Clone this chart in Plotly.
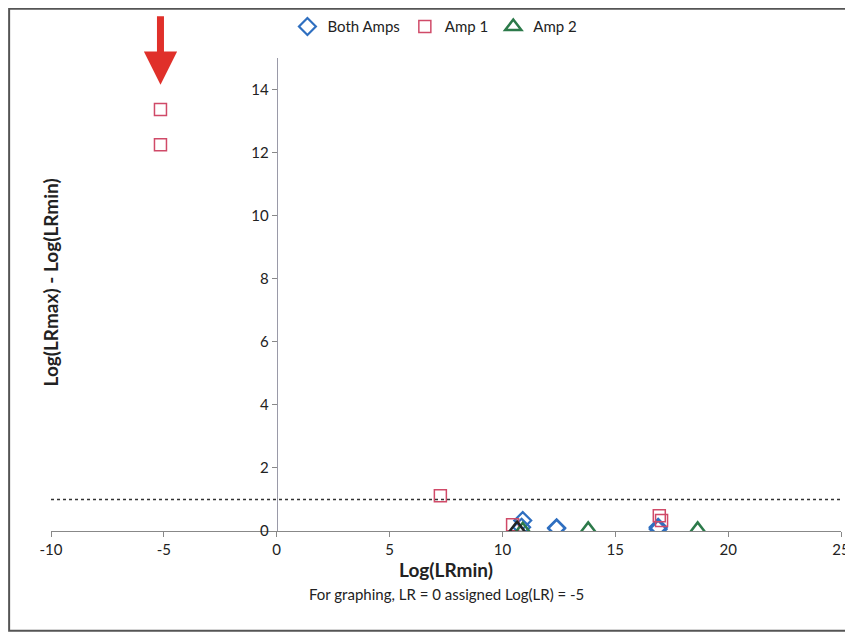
import plotly.graph_objects as go

# ---- data ----
both_x = [10.9, 10.85, 12.4, 12.4, 16.9, 16.9]
both_y = [0.33, 0.12, 0.10, 0.08, 0.12, 0.06]

amp1_x = [-5.15, -5.15, 7.25, 10.45, 16.95, 17.05]
amp1_y = [13.37, 12.25, 1.12, 0.20, 0.48, 0.33]

amp2_x = [10.9, 13.8, 18.65, 10.65]
amp2_y = [0.04, 0.05, 0.05, 0.08]

threshold = 1
x_ticks = [-10, -5, 0, 5, 10, 15, 20, 25]
x_tick_labels = ["-10", "-5", "0", "5", "10", "15", "20", "25"]
y_ticks = [0, 2, 4, 6, 8, 10, 12, 14]
arrow_x = -5.15
arrow_y = 14.15

BLUE = "#2f6fc0"
RED = "#d04a68"
GREEN = "#2c7a4a"
FONT = "Lato"
amp2_colors = [GREEN, GREEN, GREEN, "#222222"]

fig = go.Figure()
fig.add_trace(go.Scatter(x=both_x, y=both_y, mode="markers", name="Both Amps",
                         marker=dict(symbol="diamond-open", size=13, color=BLUE,
                                     line=dict(width=2.2, color=BLUE))))
fig.add_trace(go.Scatter(x=amp1_x, y=amp1_y, mode="markers", name="Amp 1",
                         marker=dict(symbol="square-open", size=12, color=RED,
                                     line=dict(width=1.5, color=RED))))
fig.add_trace(go.Scatter(x=amp2_x, y=amp2_y, mode="markers", name="Amp 2",
                         marker=dict(symbol="triangle-up-open", size=14,
                                     color=amp2_colors,
                                     line=dict(width=2.5, color=amp2_colors))))

# dotted threshold line
fig.add_shape(type="line", xref="x", yref="y", x0=x_ticks[0], x1=x_ticks[-1],
              y0=threshold, y1=threshold, line=dict(color="#333333", width=1.5, dash="dot"))

# outer frame around the whole picture
fig.add_shape(type="rect", xref="paper", yref="paper", x0=-0.053, x1=1.0127,
              y0=-0.211, y1=1.104, line=dict(color="#555555", width=2))

# red arrow
fig.add_annotation(x=arrow_x, y=arrow_y, xref="x", yref="y", ax=0, ay=-70,
                   showarrow=True, arrowhead=2, arrowsize=0.95, arrowwidth=7,
                   arrowcolor="#e0302a", text="")

# subtitle
fig.add_annotation(x=0.5, y=-0.157, xref="paper", yref="paper", showarrow=False,
                   text="For graphing, LR = 0 assigned Log(LR) = -5",
                   font=dict(family=FONT, size=15, color="#222222"))

# y-axis title placed at the left edge of the picture
fig.add_annotation(x=-0.018, y=0.526, xref="paper", yref="paper", showarrow=False,
                   text="<b>Log(LRmax) - Log(LRmin)</b>", textangle=-90,
                   font=dict(family=FONT, size=19, color="#222222"))

fig.update_layout(
    width=853, height=634,
    margin=dict(l=43, r=20, t=50, b=111, autoexpand=False),
    paper_bgcolor="white", plot_bgcolor="white",
    font=dict(family=FONT, size=15, color="#222222"),
    showlegend=True,
    legend=dict(orientation="h", x=0.486, xanchor="center", y=1.066, yanchor="middle",
                font=dict(size=15), itemwidth=30, tracegroupgap=0),
    xaxis=dict(range=[x_ticks[0], x_ticks[-1]], tickvals=x_ticks, ticktext=x_tick_labels,
               showgrid=False,
               zeroline=False, showline=True, linecolor="#888888", linewidth=1.2,
               ticks="outside", ticklen=5, tickcolor="#888888", automargin=False,
               tickfont=dict(size=15),
               title=dict(text="<b>Log(LRmin)</b>", font=dict(size=19), standoff=6)),
    yaxis=dict(range=[0, 15], tickvals=y_ticks, showgrid=False, zeroline=False,
               showline=True, linecolor="#9a9aa8", linewidth=1.2, automargin=False,
               ticks="outside", ticklen=5, tickcolor="#888888",
               tickfont=dict(size=15),
               anchor="free", position=(0 - x_ticks[0]) / (x_ticks[-1] - x_ticks[0])),
)

fig.write_html("out.html")
